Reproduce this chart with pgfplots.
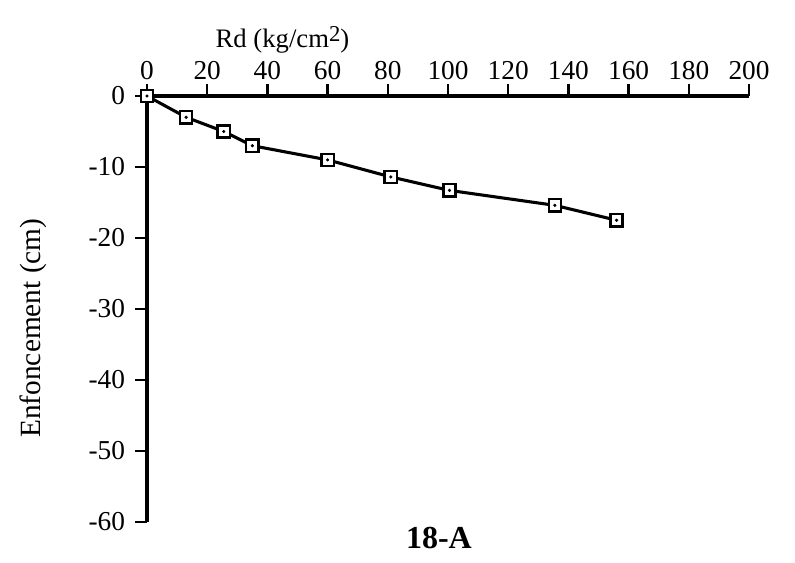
\documentclass[border=0pt]{standalone}
\usepackage{fontspec}
\setmainfont{Liberation Serif}
\usepackage{pgfplots}
\pgfplotsset{compat=1.18}
\usetikzlibrary{calc}
\begin{document}
\begin{tikzpicture}
\begin{axis}[
  name=ax,
  scale only axis,
  width=451.5pt, height=319.5pt,
  xmin=0, xmax=200, ymin=-60, ymax=0,
  axis x line=top, axis y line=left,
  axis line style={-, line width=2.3pt},
  xtick={0,20,...,200}, ytick={-60,-50,...,0},
  tick align=outside,
  major tick length=9pt,
  tick style={line width=1.8pt, black},
  clip=false,
  /pgf/number format/assume math mode=true,
  ticklabel style={font=\fontsize{20.5}{24}\selectfont},
  yticklabel style={xshift=-4pt},
  xticklabel style={yshift=0pt},
  xlabel={Rd (kg/cm\raisebox{0.45ex}{\fontsize{17}{19}\selectfont 2})},
  xlabel style={at={(rel axis cs:0.225,1)}, anchor=center, yshift=42pt, font=\fontsize{20}{23}\selectfont},
  ylabel={Enfoncement (cm)},
  ylabel style={at={(rel axis cs:0,0.455)}, anchor=center, yshift=85pt, font=\fontsize{22}{26}\selectfont},
]
\addplot[black, line width=2.3pt, mark=square*, mark size=4.6pt,
  mark options={fill=white, line width=1.8pt}] coordinates {
  (0,0) (13,-3) (25.5,-5) (35,-7) (60,-9) (81,-11.4) (100.5,-13.3) (135.5,-15.4) (156,-17.5)
};
\addplot[black, only marks, mark=*, mark size=1pt] coordinates {
  (0,0) (13,-3) (25.5,-5) (35,-7) (60,-9) (81,-11.4) (100.5,-13.3) (135.5,-15.4) (156,-17.5)
};
\node[font=\bfseries\fontsize{24}{27}\selectfont] at (rel axis cs:0.485,0) [yshift=-12pt] {18-A};
\end{axis}
\path[use as bounding box] ($(ax.south west)+(-110.25pt,-30.75pt)$) rectangle ($(ax.north east)+(34.5pt,72pt)$);
\end{tikzpicture}
\end{document}
